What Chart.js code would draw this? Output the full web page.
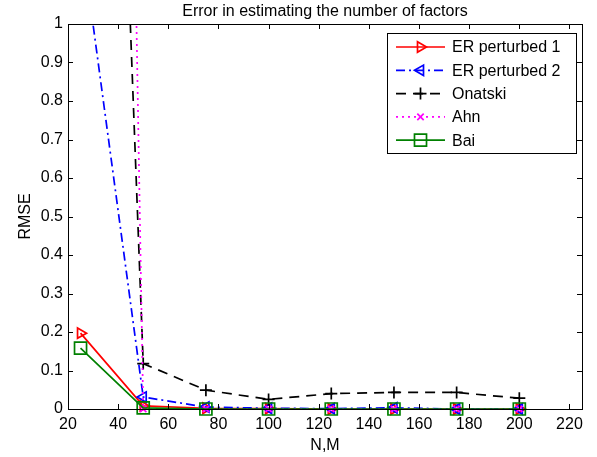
<!DOCTYPE html>
<html>
<head>
<meta charset="utf-8">
<script src="https://cdn.jsdelivr.net/npm/chart.js@4.4.0/dist/chart.umd.min.js"></script>
<style>
  html, body { margin: 0; padding: 0; background: #fff; }
  #wrap { width: 597px; height: 457px; }
</style>
</head>
<body>
<div id="wrap"><canvas id="myChart" width="597" height="457"></canvas></div>
<script>
// N,M values and RMSE per estimator (values above 1 run off the top of the axes)
var sizes = [25, 50, 75, 100, 125, 150, 175, 200];
var erPerturbed1 = [0.197, 0.008, 0.002, 0.001, 0, 0, 0, 0];
var erPerturbed2 = [1.24, 0.031, 0.005, 0.002, 0.001, 0.003, 0, 0];
var onatski = [4.4, 0.118, 0.049, 0.025, 0.040, 0.043, 0.043, 0.028];
var ahn = [9.3, 0, 0, 0, 0, 0, 0, 0];
var bai = [0.158, 0.003, 0, 0, 0, 0, 0, 0];
var xTicks = [20, 40, 60, 80, 100, 120, 140, 160, 180, 200, 220];

var FONT = 'Liberation Sans, Arial, Helvetica, sans-serif';

function pts(vals) {
  return sizes.map(function (s, i) { return {x: s, y: vals[i]}; });
}

function series(label, vals, color, dash, style, rot, radius, order) {
  return {
    label: label,
    data: pts(vals),
    borderColor: color,
    backgroundColor: color,
    borderWidth: 1.7,
    borderDash: dash,
    pointStyle: style,
    rotation: rot,
    pointRadius: radius,
    pointHoverRadius: radius,
    pointBorderColor: color,
    pointBackgroundColor: 'rgba(0,0,0,0)',
    pointBorderWidth: 1.7,
    tension: 0,
    fill: false,
    order: order,
    clip: {left: 12, top: 0, right: 12, bottom: 12}
  };
}

// titles, inward ticks, box and matlab-like legend
var matlabLook = {
  id: 'matlabLook',
  afterDraw: function (chart) {
    var ctx = chart.ctx, a = chart.chartArea;
    var xs = chart.scales.x, ys = chart.scales.y;
    ctx.save();
    ctx.strokeStyle = '#000';
    ctx.lineWidth = 1;
    ctx.setLineDash([]);
    xs.ticks.forEach(function (t) {
      var px = Math.round(xs.getPixelForValue(t.value)) + 0.5;
      ctx.beginPath();
      ctx.moveTo(px, a.bottom); ctx.lineTo(px, a.bottom - 5);
      ctx.moveTo(px, a.top); ctx.lineTo(px, a.top + 5);
      ctx.stroke();
    });
    ys.ticks.forEach(function (t) {
      var py = Math.round(ys.getPixelForValue(t.value)) + 0.5;
      ctx.beginPath();
      ctx.moveTo(a.left, py); ctx.lineTo(a.left + 5, py);
      ctx.moveTo(a.right, py); ctx.lineTo(a.right - 5, py);
      ctx.stroke();
    });
    ctx.strokeRect(Math.round(a.left) + 0.5, Math.round(a.top) + 0.5,
      Math.round(a.right - a.left), Math.round(a.bottom - a.top));

    ctx.fillStyle = '#000';
    ctx.font = '16px ' + FONT;
    ctx.textAlign = 'center';
    ctx.textBaseline = 'alphabetic';
    ctx.fillText('Error in estimating the number of factors', (a.left + a.right) / 2, 16);
    ctx.fillText('N,M', (a.left + a.right) / 2, 450);
    ctx.save();
    ctx.translate(30, (a.top + a.bottom) / 2);
    ctx.rotate(-Math.PI / 2);
    ctx.fillText('RMSE', 0, 0);
    ctx.restore();

    // legend
    var lx = 387.5, ly = 33.5, lw = 189, lh = 120;
    ctx.fillStyle = '#fff';
    ctx.fillRect(lx, ly, lw, lh);
    ctx.strokeStyle = '#000';
    ctx.strokeRect(lx, ly, lw, lh);
    chart.data.datasets.forEach(function (ds, i) {
      var y = 47 + i * 23.3;
      ctx.strokeStyle = ds.borderColor;
      ctx.lineWidth = ds.borderWidth;
      ctx.setLineDash(ds.borderDash || []);
      ctx.beginPath();
      ctx.moveTo(396, y); ctx.lineTo(445, y);
      ctx.stroke();
      ctx.setLineDash([]);
      ctx.fillStyle = 'rgba(0,0,0,0)';
      Chart.helpers.drawPoint(ctx, {
        pointStyle: ds.pointStyle, rotation: ds.rotation,
        radius: ds.pointRadius, borderWidth: ds.pointBorderWidth
      }, 420.5, y);
      ctx.fillStyle = '#000';
      ctx.textAlign = 'left';
      ctx.textBaseline = 'middle';
      ctx.fillText(ds.label, 452, y + 1);
    });
    ctx.restore();
  }
};

var ctx = document.getElementById('myChart').getContext('2d');
var myChart = new Chart(ctx, {
  type: 'line',
  data: {
    datasets: [
      series('ER perturbed 1', erPerturbed1, '#ff0000', [], 'triangle', 90, 6, 5),
      series('ER perturbed 2', erPerturbed2, '#0000ff', [9, 4, 2, 4], 'triangle', -90, 6, 4),
      series('Onatski', onatski, '#000000', [10, 7], 'cross', 0, 6, 3),
      series('Ahn', ahn, '#ff00ff', [2, 4], 'crossRot', 0, 4.5, 2),
      series('Bai', bai, '#008000', [], 'rect', 0, 8.5, 1)
    ]
  },
  plugins: [matlabLook],
  options: {
    responsive: false,
    animation: false,
    devicePixelRatio: 1,
    layout: { padding: { top: 24, right: 15, left: 0, bottom: 0 } },
    plugins: {
      legend: { display: false },
      title: { display: false },
      tooltip: { enabled: false }
    },
    scales: {
      x: {
        type: 'linear',
        min: 20,
        max: 225,
        afterBuildTicks: function (scale) {
          scale.ticks = xTicks.map(function (v) { return {value: v}; });
        },
        afterFit: function (scale) { scale.height = 48; },
        grid: { display: false, drawTicks: false },
        border: { display: false },
        ticks: { color: '#000', padding: 6, maxRotation: 0, autoSkip: false,
                 font: { family: FONT, size: 16 } }
      },
      y: {
        min: 0,
        max: 1,
        afterFit: function (scale) { scale.width = 68; },
        grid: { display: false, drawTicks: false },
        border: { display: false },
        ticks: { color: '#000', padding: 5, stepSize: 0.1,
                 callback: function (v) { return String(Number(v.toFixed(1))); },
                 font: { family: FONT, size: 16 } }
      }
    }
  }
});
</script>
</body>
</html>
